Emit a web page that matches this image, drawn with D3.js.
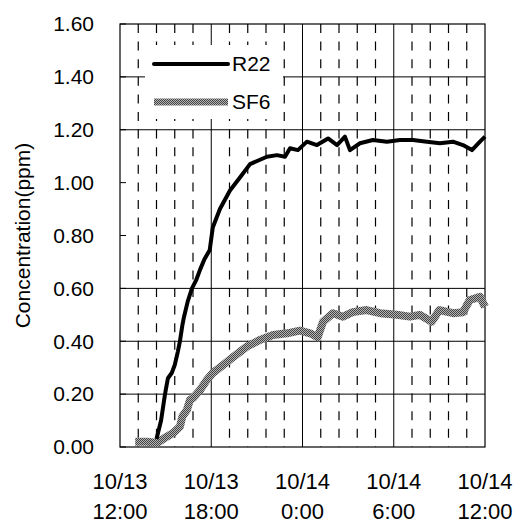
<!DOCTYPE html>
<html>
<head>
<meta charset="utf-8">
<script src="https://cdn.jsdelivr.net/npm/d3@7"></script>
<style>
    body { margin: 0; background: #fff; }
    svg text { font-family: "Liberation Sans", Arial, sans-serif; fill: #000; }
</style>
</head>
<body>
<div id="chart"></div>
<script>
// hours since 10/13 12:00
var r22Hours = [2.4, 2.7, 2.96, 3.15, 3.4, 3.6, 3.8, 3.94, 4.1, 4.2, 4.45, 4.73, 5.0, 5.26, 5.55, 5.9,
    6.1, 6.57, 7.23, 7.9, 8.55, 9.66, 10.32, 10.85, 11.18, 11.7, 12.29, 12.95, 13.68, 14.27, 14.79,
    15.12, 15.78, 16.63, 17.55, 18.41, 19.26, 20.18, 21.04, 21.89, 22.55, 23.14, 23.67, 24.0];
var r22Values = [0.03, 0.10, 0.20, 0.26, 0.28, 0.31, 0.36, 0.40, 0.46, 0.49, 0.55, 0.60, 0.63, 0.67, 0.71, 0.745,
    0.83, 0.90, 0.97, 1.02, 1.07, 1.098, 1.104, 1.098, 1.13, 1.123, 1.155, 1.142, 1.167, 1.142, 1.174,
    1.123, 1.149, 1.161, 1.155, 1.161, 1.161, 1.155, 1.149, 1.155, 1.142, 1.123, 1.155, 1.174];

var sf6Hours = [1.0, 1.8, 2.43, 3.1, 3.5, 3.94, 4.1, 4.4, 4.6, 4.8, 5.26, 5.7, 6.1, 6.77, 7.43, 8.35, 9.2, 10.06,
    10.98, 11.83, 12.5, 13.0, 13.35, 14.0, 14.66, 15.3, 16.2, 17.1, 18.2, 19.07, 19.7, 20.5, 21.0, 21.9, 22.55,
    23.0, 23.67, 24.0];
var sf6Values = [0.02, 0.02, 0.015, 0.04, 0.053, 0.077, 0.115, 0.14, 0.178, 0.185, 0.215, 0.253, 0.28, 0.31, 0.34, 0.38, 0.405, 0.424,
    0.43, 0.44, 0.43, 0.415, 0.474, 0.506, 0.493, 0.51, 0.518, 0.506, 0.50, 0.493, 0.50, 0.474, 0.518, 0.506, 0.51,
    0.556, 0.568, 0.53];

var yTicks = [0, 0.2, 0.4, 0.6, 0.8, 1.0, 1.2, 1.4, 1.6];
var yGridValues = [0.2, 0.4, 0.6, 1.2, 1.4];
var xMajorHours = [0, 6, 12, 18, 24];
var xTickLabels = [['10/13', '12:00'], ['10/13', '18:00'], ['10/14', '0:00'], ['10/14', '6:00'], ['10/14', '12:00']];
var seriesNames = ['R22', 'SF6'];

var width = 517, height = 524;
var plotLeft = 120, plotRight = 485, plotTop = 24, plotBottom = 447;

var svg = d3.select('#chart')
    .append('svg')
    .attr('width', width)
    .attr('height', height);

var x = d3.scaleLinear().domain([0, 24]).range([plotLeft, plotRight]);
var y = d3.scaleLinear().domain([0, 1.6]).range([plotBottom, plotTop]);

// gray checkered fill used for the SF6 trace
var pat = svg.append('defs').append('pattern')
    .attr('id', 'sf6pat')
    .attr('patternUnits', 'userSpaceOnUse')
    .attr('width', 2)
    .attr('height', 2);
pat.append('rect').attr('width', 2).attr('height', 2).attr('fill', '#b4b4b4');
pat.append('rect').attr('width', 1).attr('height', 1).attr('fill', '#444');
pat.append('rect').attr('x', 1).attr('y', 1).attr('width', 1).attr('height', 1).attr('fill', '#444');

// minor dashed verticals every 1.2 h
var minorHours = d3.range(1, 20).map(function(i) { return i * 1.2; })
    .filter(function(h) { return Math.abs(h / 6 - Math.round(h / 6)) > 0.01; });

svg.append('g').selectAll('line')
    .data(minorHours)
    .enter()
    .append('line')
    .attr('x1', function(d) { return x(d); })
    .attr('x2', function(d) { return x(d); })
    .attr('y1', plotTop)
    .attr('y2', plotBottom)
    .attr('stroke', '#000')
    .attr('stroke-width', 1.2)
    .attr('stroke-dasharray', '9,8.6');

svg.append('g').selectAll('line')
    .data(xMajorHours.slice(1, 4))
    .enter()
    .append('line')
    .attr('x1', function(d) { return x(d); })
    .attr('x2', function(d) { return x(d); })
    .attr('y1', plotTop)
    .attr('y2', plotBottom)
    .attr('stroke', '#000')
    .attr('stroke-width', 1);

svg.append('g').selectAll('line')
    .data(yGridValues)
    .enter()
    .append('line')
    .attr('x1', plotLeft)
    .attr('x2', plotRight)
    .attr('y1', function(d) { return y(d); })
    .attr('y2', function(d) { return y(d); })
    .attr('stroke', '#000')
    .attr('stroke-width', 1);

// y ticks (inside)
svg.append('g').selectAll('line')
    .data(yTicks)
    .enter()
    .append('line')
    .attr('x1', plotLeft)
    .attr('x2', plotLeft + 6)
    .attr('y1', function(d) { return y(d); })
    .attr('y2', function(d) { return y(d); })
    .attr('stroke', '#000');

// frame
svg.append('rect')
    .attr('x', plotLeft)
    .attr('y', plotTop)
    .attr('width', plotRight - plotLeft)
    .attr('height', plotBottom - plotTop)
    .attr('fill', 'none')
    .attr('stroke', '#000')
    .attr('stroke-width', 1.2);

// legend background hides the grid behind it
svg.append('rect')
    .attr('x', 145)
    .attr('y', 45)
    .attr('width', 138)
    .attr('height', 74)
    .attr('fill', '#fff');

var line = d3.line()
    .x(function(d) { return x(d[0]); })
    .y(function(d) { return y(d[1]); });

var sf6Data = d3.zip(sf6Hours, sf6Values);
var r22Data = d3.zip(r22Hours, r22Values);

svg.append('path')
    .datum(sf6Data)
    .attr('d', line)
    .attr('fill', 'none')
    .attr('stroke', 'url(#sf6pat)')
    .attr('stroke-width', 8)
    .attr('stroke-linejoin', 'round');

svg.append('path')
    .datum(r22Data)
    .attr('d', line)
    .attr('fill', 'none')
    .attr('stroke', '#000')
    .attr('stroke-width', 4)
    .attr('stroke-linejoin', 'round');

// legend
var legendY = [64, 102];
var legend = svg.append('g').selectAll('g')
    .data(seriesNames)
    .enter()
    .append('g');

legend.append('line')
    .attr('x1', 154)
    .attr('x2', 228)
    .attr('y1', function(d, i) { return legendY[i]; })
    .attr('y2', function(d, i) { return legendY[i]; })
    .attr('stroke', function(d, i) { return i === 0 ? '#000' : 'url(#sf6pat)'; })
    .attr('stroke-width', function(d, i) { return i === 0 ? 4 : 7; })
    .attr('stroke-linecap', function(d, i) { return i === 0 ? 'round' : 'butt'; });

legend.append('text')
    .attr('x', 232)
    .attr('y', function(d, i) { return legendY[i]; })
    .attr('dy', '0.35em')
    .style('font-size', '21px')
    .text(function(d) { return d; });

// y labels
svg.append('g').selectAll('text')
    .data(yTicks)
    .enter()
    .append('text')
    .attr('x', 94)
    .attr('y', function(d) { return y(d); })
    .attr('dy', '0.35em')
    .attr('text-anchor', 'end')
    .style('font-size', '21px')
    .text(function(d) { return d.toFixed(2); });

// x labels, two lines each
var xl = svg.append('g').selectAll('text')
    .data(xMajorHours)
    .enter()
    .append('text')
    .attr('text-anchor', 'middle')
    .style('font-size', '22px');

xl.append('tspan')
    .attr('x', function(d) { return x(d); })
    .attr('y', 489)
    .text(function(d, i) { return xTickLabels[i][0]; });

xl.append('tspan')
    .attr('x', function(d) { return x(d); })
    .attr('y', 519)
    .text(function(d, i) { return xTickLabels[i][1]; });

svg.append('text')
    .attr('transform', 'translate(30,' + (plotTop + plotBottom) / 2 + ') rotate(-90)')
    .attr('text-anchor', 'middle')
    .style('font-size', '21px')
    .text('Concentration(ppm)');
</script>
</body>
</html>
